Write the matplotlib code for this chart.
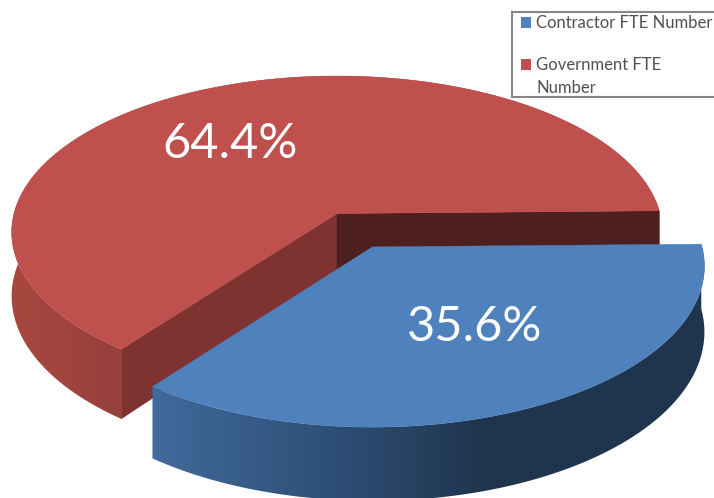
import numpy as np
import matplotlib
matplotlib.use("Agg")
import matplotlib.pyplot as plt
from matplotlib.colors import LinearSegmentedColormap
from matplotlib.patches import Polygon, Rectangle

# Data
labels = ["Contractor FTE Number", "Government FTE\nNumber"]
shares = [35.6, 64.4]
share_labels = ["35.6%", "64.4%"]

# Look of the 3D pie, in pixels of the 714x498 picture
cx, cy = 337, 213.5
rx, ry = 323, 154
persp = 0.12
depth = 63
start = -1
explode = 0.243
blue_sx, blue_sy = 1.02, 1.03

blue = "#4f81bd"
red = "#c0504d"
red_wall = "#7f3331"
red_back = "#4d1f1e"


# angle on the disk to picture offset from the centre, simple perspective
def rim(t0, t1, drop=0):
    t = np.radians(np.linspace(t0, t1, 300))
    w = 1 - persp * np.sin(t)
    return np.column_stack([rx * np.cos(t) / w, (ry * np.sin(t) + drop) / w])


fig = plt.figure(figsize=(7.14, 4.98), dpi=100)
ax = fig.add_axes([0, 0, 1, 1])


# side of a slice, colour runs with x between x0 and x1
def gradient_side(pts, colors, x0, x1, zorder):
    cmap = LinearSegmentedColormap.from_list("side", colors)
    patch = Polygon(pts, closed=True, fc="none", ec="none", zorder=zorder)
    ax.add_patch(patch)
    xs = np.arange(0, 714) + 0.5
    grad = np.clip((xs - x0) / (x1 - x0), 0, 1).reshape(1, -1)
    im = ax.imshow(grad, cmap=cmap, vmin=0, vmax=1, extent=[0, 714, 498, 0], aspect="auto", zorder=zorder)
    im.set_clip_path(patch)


split = start + shares[0] / 100 * 360
mid = np.radians((start + split) / 2)
centre = np.array([cx, cy])

# red slice: outer side, two cut walls, top
top_red = centre + rim(split, 360 + start)
low_red = centre + rim(split, 360 + start, drop=depth)
low_apex = centre + [0, depth]
gradient_side(np.vstack([top_red, low_red[::-1]]), ["#a8483f", "#96403c"], 12, 125, 1)
ax.add_patch(Polygon([centre, top_red[0], low_red[0], low_apex], fc=red_wall, ec=red_wall, lw=0.3, zorder=2))
ax.add_patch(Polygon([centre, top_red[-1], low_red[-1], low_apex], fc=red_back, ec=red_back, lw=0.3, zorder=2))
ax.add_patch(Polygon(np.vstack([centre, top_red]), fc=red, ec=red, lw=0.3, zorder=3))

# blue slice pulled out: outer side then top
blue_apex = centre + [rx * explode * np.cos(mid), ry * explode * np.sin(mid)]
blue_scale = np.array([blue_sx, blue_sy])
top_blue = blue_apex + rim(start, split) * blue_scale
low_blue = blue_apex + rim(start, split, drop=depth) * blue_scale
gradient_side(np.vstack([top_blue, low_blue[::-1]]), ["#41699a", "#2f5179", "#1f344d"], 155, 490, 4)
ax.add_patch(Polygon(np.vstack([blue_apex, top_blue]), fc=blue, ec=blue, lw=0.3, zorder=5))

# percent labels
ax.text(475, 327, share_labels[0], color="white", fontsize=35, family="Lato", ha="center", va="center", zorder=6)
ax.text(230, 144, share_labels[1], color="white", fontsize=35, family="Lato", ha="center", va="center", zorder=6)

# legend box runs off the right edge in the original
ax.add_patch(Rectangle((512, 12), 230, 85, fc="white", ec="#868686", lw=1.5, zorder=7))
ax.add_patch(Rectangle((521, 17), 10, 11, fc=blue, ec="none", zorder=8))
ax.add_patch(Rectangle((521, 59), 10, 11, fc=red, ec="none", zorder=8))
ax.text(536, 23, labels[0], color="#505050", fontsize=12, family="Lato", va="center", zorder=8)
ax.text(536, 76.5, labels[1], color="#505050", fontsize=12, family="Lato", va="center", linespacing=1.58, zorder=8)

ax.set_xlim(0, 714)
ax.set_ylim(498, 0)
ax.axis("off")

fig.savefig("out.png", dpi=100)
